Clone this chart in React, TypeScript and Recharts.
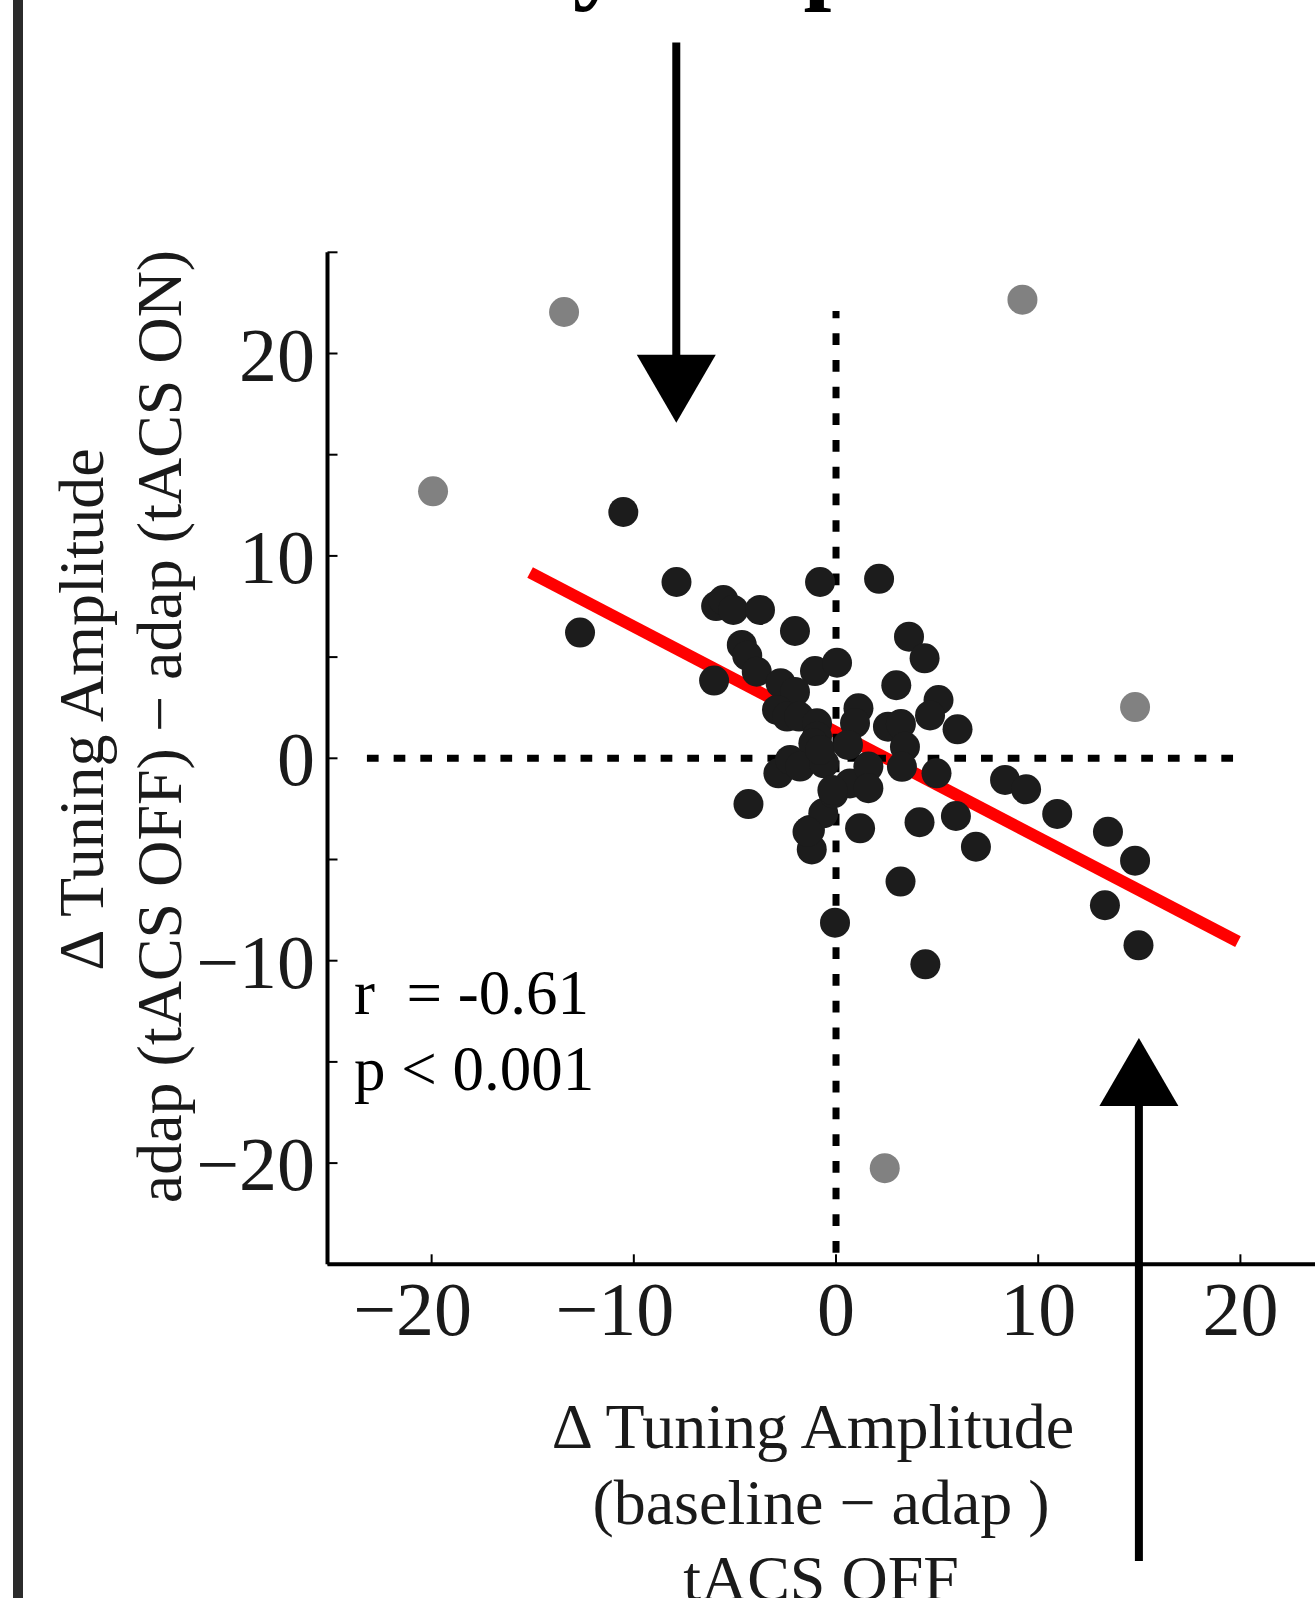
import React from "react";
import { ScatterChart, Scatter, XAxis, YAxis, ReferenceLine } from "recharts";

// cells kept in the analysis (black)
const cellX = [
  -10.52, -7.89, -0.79, 2.13, -12.66, -5.93, -5.57, -5.08, -3.76, -2.03,
  -4.66, -4.39, -3.92, -1.04, 0.05, -6.03, -2.74, -2.03, 3.61, 4.38,
  2.98, 5.07, 4.65, 6.01, 1.11, 0.94, -2.92, -2.42, -1.83, -0.94,
  -0.94, 2.57, 3.21, 3.41, 3.26, 4.97, 8.36, 9.4, 10.94, 5.93,
  4.13, 1.19, 6.92, 13.45, 14.79, 3.19, 13.3, 14.96, 4.42, -0.05,
  -4.33, -2.85, -2.27, -1.29, -0.63, -1.2, -0.13, -1.12, -1.78, 0.69,
  1.6, 1.6, -0.59, -0.79, -0.18, 0.59, -1.41,
];
const cellY = [
  12.17, 8.71, 8.71, 8.87, 6.21, 7.52, 7.82, 7.33, 7.33, 6.29,
  5.6, 5.07, 4.28, 4.31, 4.72, 3.84, 3.71, 3.28, 6.01, 4.94,
  3.61, 2.88, 2.12, 1.43, 2.47, 1.74, 2.39, 2.06, 2.06, 1.73,
  1.07, 1.56, 1.69, 0.57, -0.42, -0.74, -1.07, -1.53, -2.75, -2.85,
  -3.16, -3.46, -4.37, -3.63, -5.06, -6.09, -7.26, -9.24, -10.18, -8.12,
  -2.26, -0.74, -0.08, -3.54, -2.72, -4.5, -1.73, 0.74, -0.41, -1.24,
  -0.41, -1.48, -0.25, 0.41, -1.57, 0.66, -3.63,
];

// excluded cells (grey)
const outlierX = [-13.45, 9.22, -19.93, 14.79, 2.41];
const outlierY = [22.05, 22.66, 13.19, 2.53, -20.25];

// regression line end points
const fitX = [-15.13, 19.88];
const fitY = [9.18, -9.06];

// dotted zero lines extent
const zeroLineX = [-23.2, 19.8];
const zeroLineY = [-24.43, 22.1];

// arrows: x position, tail y, tip y
const arrowX = [-7.9, 14.98];
const arrowTail = [35.37, -39.66];
const arrowTip = [16.58, -13.82];

const xTicks = [-20, -10, 0, 10, 20];
const yTicks = [-25, -20, -15, -10, -5, 0, 5, 10, 15, 20, 25];

const SERIF = '"Liberation Serif", "Times New Roman", serif';

const cells = cellX.map((x, i) => ({ x, y: cellY[i] }));
const outliers = outlierX.map((x, i) => ({ x, y: outlierY[i] }));

const fmt = (v: number) => (v < 0 ? `\u2212${Math.abs(v)}` : `${v}`);

const renderXTick = (props: any) => {
  const { x, y, payload } = props;
  const v = payload.value;
  return (
    <text
      x={v < 0 ? x - 19 : x}
      y={y + 81}
      textAnchor="middle"
      fontFamily={SERIF}
      fontSize={76}
      fill="#1a1a1a"
    >
      {fmt(v)}
    </text>
  );
};

const renderYTick = (props: any) => {
  const { x, y, payload } = props;
  const v = payload.value;
  if (v % 10 !== 0) return <g />;
  return (
    <text
      x={x - 22.5}
      y={y + 27}
      textAnchor="end"
      fontFamily={SERIF}
      fontSize={76}
      fill="#1a1a1a"
    >
      {fmt(v)}
    </text>
  );
};

const blackDot = (p: any) => <circle cx={p.cx} cy={p.cy} r={15} fill="#1c1c1c" />;
const greyDot = (p: any) => <circle cx={p.cx} cy={p.cy} r={15} fill="#818181" />;

const Arrow = (props: any) => {
  const { x1, y1, x2, y2 } = props;
  const len = Math.hypot(x2 - x1, y2 - y1);
  const ux = (x2 - x1) / len;
  const uy = (y2 - y1) / len;
  const bx = x2 - ux * 68;
  const by = y2 - uy * 68;
  const nx = -uy;
  const ny = ux;
  return (
    <g>
      <line x1={x1} y1={y1} x2={bx + ux * 2} y2={by + uy * 2} stroke="#000" strokeWidth={8} />
      <polygon
        points={`${x2},${y2} ${bx + nx * 39.5},${by + ny * 39.5} ${bx - nx * 39.5},${by - ny * 39.5}`}
        fill="#000"
      />
    </g>
  );
};

export default function App() {
  return (
    <div
      style={{
        position: "absolute",
        left: 0,
        top: 0,
        width: 1315,
        height: 1598,
        overflow: "hidden",
        background: "#fff",
      }}
    >
      <ScatterChart
        width={1400}
        height={1598}
        margin={{ top: 252.3, right: 58.5, bottom: 0, left: 0 }}
      >
        <XAxis
          type="number"
          dataKey="x"
          domain={[-25.15, 25]}
          ticks={xTicks}
          interval={0}
          allowDataOverflow
          height={333.7}
          axisLine={{ stroke: "#000", strokeWidth: 4 }}
          tickLine={{ stroke: "#000", strokeWidth: 2 }}
          tickSize={-10}
          tickMargin={0}
          tick={renderXTick}
        />
        <YAxis
          type="number"
          dataKey="y"
          domain={[-25, 25]}
          ticks={yTicks}
          interval={0}
          allowDataOverflow
          width={327.5}
          axisLine={{ stroke: "#000", strokeWidth: 4 }}
          tickLine={{ stroke: "#000", strokeWidth: 2 }}
          tickSize={-10}
          tickMargin={0}
          tick={renderYTick}
        />
        <Scatter data={outliers} shape={greyDot} isAnimationActive={false} />
        <Scatter data={cells} shape={blackDot} isAnimationActive={false} />
        <ReferenceLine
          segment={[
            { x: fitX[0], y: fitY[0] },
            { x: fitX[1], y: fitY[1] },
          ]}
          stroke="#ff0000"
          strokeWidth={12}
          ifOverflow="visible"
        />
        <ReferenceLine
          segment={[
            { x: zeroLineX[0], y: 0 },
            { x: zeroLineX[1], y: 0 },
          ]}
          stroke="#000"
          strokeWidth={7}
          strokeDasharray="11.7 15"
          ifOverflow="visible"
        />
        <ReferenceLine
          segment={[
            { x: 0, y: zeroLineY[0] },
            { x: 0, y: zeroLineY[1] },
          ]}
          stroke="#000"
          strokeWidth={7}
          strokeDasharray="11.7 15"
          ifOverflow="visible"
        />
        {arrowX.map((ax, i) => (
          <ReferenceLine
            key={i}
            segment={[
              { x: ax, y: arrowTail[i] },
              { x: ax, y: arrowTip[i] },
            ]}
            ifOverflow="visible"
            shape={Arrow}
          />
        ))}
      </ScatterChart>

      {/* text and frame */}
      <svg
        width={1315}
        height={1598}
        style={{ position: "absolute", left: 0, top: 0, pointerEvents: "none" }}
        fontFamily={SERIF}
        fill="#1a1a1a"
      >
        <rect x={13} y={0} width={10} height={1598} fill="#2b2b2b" />
        {/* panel title, only its descenders fall inside the crop */}
        <text x={384} y={-9} fontSize={100} fontWeight="bold" fill="#000">
          Early adaptation
        </text>
        <text
          x={103}
          y={709.5}
          transform="rotate(-90 103 709.5)"
          textAnchor="middle"
          fontSize={64}
        >
          Δ Tuning Amplitude
        </text>
        <text
          x={181}
          y={726.5}
          transform="rotate(-90 181 726.5)"
          textAnchor="middle"
          fontSize={64}
        >
          adap (tACS OFF) − adap (tACS ON)
        </text>
        <text x={813} y={1448} textAnchor="middle" fontSize={64}>
          Δ Tuning Amplitude
        </text>
        <text x={821} y={1524} textAnchor="middle" fontSize={64}>
          (baseline − adap )
        </text>
        <text x={821} y={1600} textAnchor="middle" fontSize={64}>
          tACS OFF
        </text>
        <text x={354} y={1014} fontSize={63} fill="#000" style={{ whiteSpace: "pre" }}>
          {"r  = -0.61"}
        </text>
        <text x={354} y={1090} fontSize={63} fill="#000" style={{ whiteSpace: "pre" }}>
          {"p < 0.001"}
        </text>
      </svg>
    </div>
  );
}
